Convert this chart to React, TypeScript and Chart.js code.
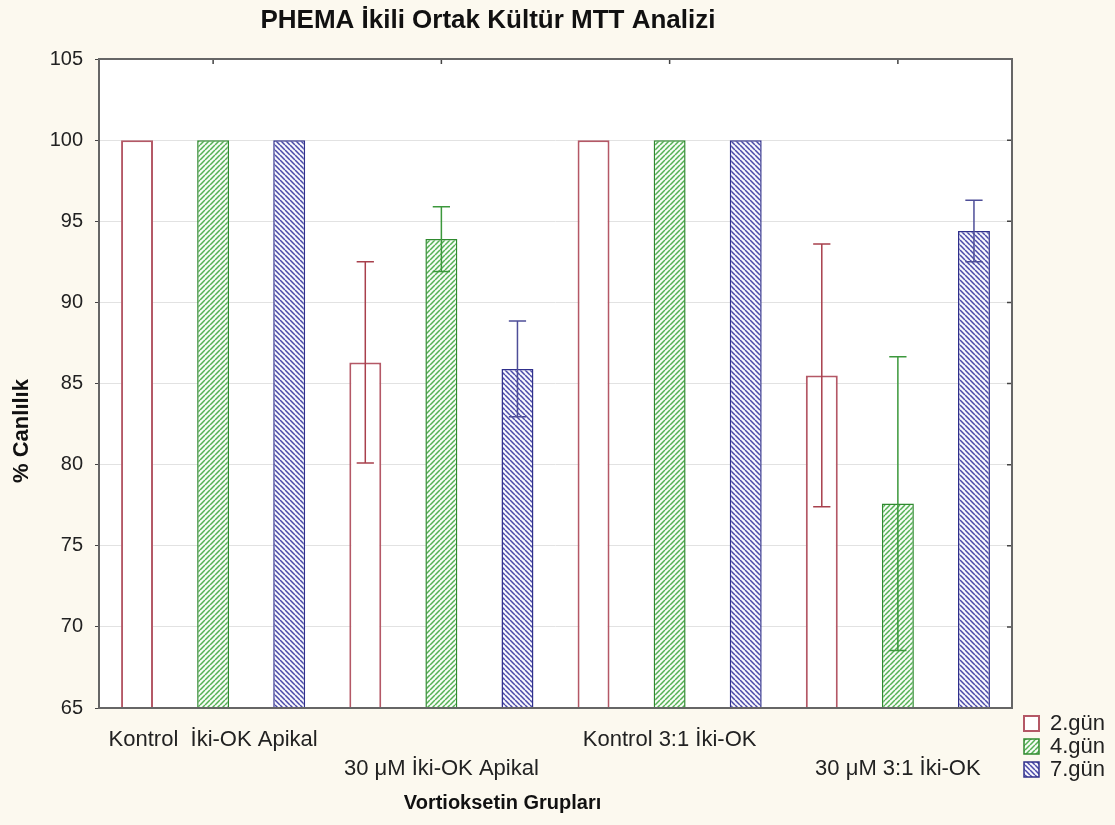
import React, { useEffect, useRef } from "react";
import { Chart, registerables } from "chart.js";

Chart.register(...registerables);

// ---- data ----
const categories: string[][] = [
  ["Kontrol  İki-OK Apikal", ""],
  ["", "30 μM İki-OK Apikal"],
  ["Kontrol 3:1 İki-OK", ""],
  ["", "30 μM 3:1 İki-OK"],
];
const seriesNames = ["2.gün", "4.gün", "7.gün"];
const day2 = [100, 86.3, 100, 85.5];
const day4 = [100, 93.9, 100, 77.6];
const day7 = [100, 85.9, 100, 94.4];
const day2Err = [0, 6.2, 0, 8.1];
const day4Err = [0, 2.0, 0, 9.05];
const day7Err = [0, 2.95, 0, 1.9];
const yMin = 65;
const yMax = 105;
const yStep = 5;
const chartTitle = "PHEMA İkili Ortak Kültür MTT Analizi";
const xTitle = "Vortioksetin Grupları";
const yTitle = "% Canlılık";

const FONT = "'Liberation Sans', Arial, sans-serif";
const BG = "#fcf9ef";

function makeHatch(dir: "up" | "down", line: string, bg: string): CanvasPattern | string {
  const s = 5;
  const c = document.createElement("canvas");
  c.width = s;
  c.height = s;
  const g = c.getContext("2d");
  if (!g) return bg;
  g.fillStyle = bg;
  g.fillRect(0, 0, s, s);
  g.strokeStyle = line;
  g.lineWidth = 1.5;
  g.beginPath();
  for (const o of [-s, 0, s]) {
    if (dir === "up") {
      g.moveTo(o, s);
      g.lineTo(o + s, 0);
    } else {
      g.moveTo(o, 0);
      g.lineTo(o + s, s);
    }
  }
  g.stroke();
  const p = g.createPattern(c, "repeat");
  return p || bg;
}

const backgroundPlugin = {
  id: "plotBg",
  beforeDraw(chart: any) {
    const { ctx, chartArea } = chart;
    ctx.save();
    ctx.fillStyle = BG;
    ctx.fillRect(0, 0, chart.width, chart.height);
    ctx.fillStyle = "#ffffff";
    ctx.fillRect(chartArea.left, chartArea.top, chartArea.right - chartArea.left, chartArea.bottom - chartArea.top);
    ctx.restore();
  },
};

const errorBarPlugin = {
  id: "errorBars",
  afterDatasetsDraw(chart: any) {
    const ctx = chart.ctx;
    const yScale = chart.scales.y;
    chart.data.datasets.forEach((ds: any, i: number) => {
      const meta = chart.getDatasetMeta(i);
      meta.data.forEach((bar: any, j: number) => {
        const e = ds.errors[j];
        if (!e) return;
        const v = ds.data[j];
        const yTop = yScale.getPixelForValue(v + e);
        const yBot = yScale.getPixelForValue(v - e);
        const half = bar.width * 0.27;
        ctx.save();
        ctx.strokeStyle = ds.errorColor;
        ctx.lineWidth = 1.5;
        ctx.beginPath();
        ctx.moveTo(bar.x, yTop);
        ctx.lineTo(bar.x, yBot);
        ctx.moveTo(bar.x - half, yTop);
        ctx.lineTo(bar.x + half, yTop);
        ctx.moveTo(bar.x - half, yBot);
        ctx.lineTo(bar.x + half, yBot);
        ctx.stroke();
        ctx.restore();
      });
    });
  },
};

const framePlugin = {
  id: "frameAndTitles",
  afterDraw(chart: any) {
    const { ctx, chartArea } = chart;
    const { left, right, top, bottom } = chartArea;
    const xs = chart.scales.x;
    const ys = chart.scales.y;
    ctx.save();
    // inner ticks at top (category centres) and right (y ticks)
    ctx.strokeStyle = "#444";
    ctx.lineWidth = 1.5;
    ctx.beginPath();
    for (let i = 0; i < categories.length; i++) {
      const px = xs.getPixelForValue(i);
      ctx.moveTo(px, top);
      ctx.lineTo(px, top + 5);
    }
    for (let v = yMin; v <= yMax; v += yStep) {
      const py = ys.getPixelForValue(v);
      ctx.moveTo(right, py);
      ctx.lineTo(right - 5, py);
    }
    ctx.stroke();
    // frame
    ctx.strokeStyle = "#666";
    ctx.lineWidth = 2;
    ctx.strokeRect(left, top, right - left, bottom - top);

    // titles
    ctx.fillStyle = "#111";
    ctx.textAlign = "center";
    ctx.textBaseline = "alphabetic";
    ctx.font = `bold 26px ${FONT}`;
    ctx.fillText(chartTitle, left + (right - left) * 0.426, 28);

    ctx.font = `bold 20px ${FONT}`;
    ctx.textBaseline = "middle";
    ctx.fillText(xTitle, left + (right - left) * 0.442, bottom + 95);

    ctx.font = `bold 22px ${FONT}`;
    ctx.translate(22, top + (bottom - top) * 0.5 + 47.5);
    ctx.rotate(-Math.PI / 2);
    ctx.fillText(yTitle, 0, 0);
    ctx.restore();
  },
};

export default function App() {
  const ref = useRef<HTMLCanvasElement | null>(null);

  useEffect(() => {
    document.body.style.backgroundColor = BG;
    const canvas = ref.current;
    if (!canvas) return;
    const greenHatch = makeHatch("up", "#55b055", "#f6fcf6");
    const blueHatch = makeHatch("down", "#4a4aa8", "#f7f7fd");

    const chart = new Chart(canvas, {
      type: "bar",
      data: {
        labels: categories,
        datasets: [
          {
            label: seriesNames[0],
            data: day2,
            errors: day2Err,
            errorColor: "#a8404c",
            backgroundColor: "#ffffff",
            borderColor: "#b45866",
            borderWidth: 2,
          } as any,
          {
            label: seriesNames[1],
            data: day4,
            errors: day4Err,
            errorColor: "#3c983c",
            backgroundColor: greenHatch,
            borderColor: "#2f8a2f",
            borderWidth: 1.5,
          } as any,
          {
            label: seriesNames[2],
            data: day7,
            errors: day7Err,
            errorColor: "#4e4e98",
            backgroundColor: blueHatch,
            borderColor: "#30308c",
            borderWidth: 1.5,
          } as any,
        ],
      },
      options: {
        responsive: false,
        animation: false,
        devicePixelRatio: 1,
        layout: { padding: { top: 59, bottom: 43.5, left: 0, right: 8 } },
        datasets: {
          bar: { categoryPercentage: 1.0, barPercentage: 0.42 },
        },
        scales: {
          x: {
            grid: { display: false, drawTicks: false },
            border: { display: false },
            afterFit: (s: any) => {
              s.height = 73.5;
            },
            ticks: {
              autoSkip: false,
              maxRotation: 0,
              minRotation: 0,
              padding: 17,
              color: "#222",
              font: { family: FONT, size: 22, lineHeight: 1.32 },
            },
          },
          y: {
            min: yMin,
            max: yMax,
            afterFit: (s: any) => {
              s.width = 99;
            },
            grid: { color: "#e2e2e2", tickColor: "#444", tickLength: 4, lineWidth: 1 },
            border: { display: false },
            ticks: {
              stepSize: yStep,
              padding: 12,
              color: "#222",
              font: { family: FONT, size: 20 },
            },
          },
          spacer: {
            type: "linear",
            position: "right",
            display: true,
            min: yMin,
            max: yMax,
            grid: { display: false, drawTicks: false },
            border: { display: false },
            ticks: { display: false },
            afterFit: (s: any) => {
              s.width = 11;
            },
          },
        },
        plugins: {
          title: { display: false },
          tooltip: { enabled: false },
          legend: {
            position: "right",
            align: "end",
            maxWidth: 84,
            labels: {
              boxWidth: 15,
              boxHeight: 15,
              padding: 1,
              color: "#222",
              font: { family: FONT, size: 22 },
            },
          },
        },
      } as any,
      plugins: [backgroundPlugin, errorBarPlugin, framePlugin],
    });
    return () => chart.destroy();
  }, []);

  return (
    <canvas
      ref={ref}
      width={1115}
      height={825}
      style={{ display: "block", position: "absolute", left: 0, top: 0, width: 1115, height: 825 }}
    />
  );
}
